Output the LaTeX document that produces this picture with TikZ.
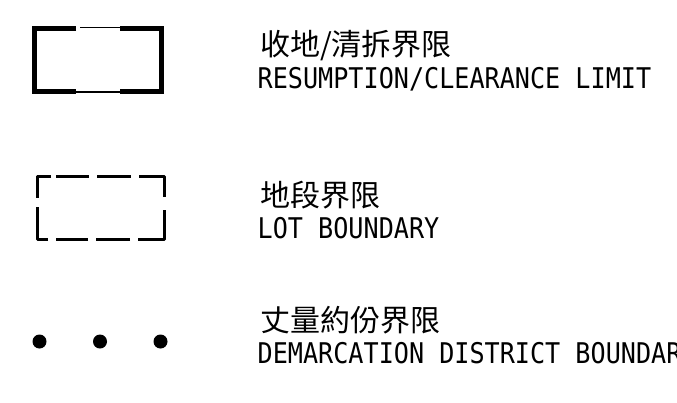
\documentclass[tikz,border=0pt]{standalone}
\usepackage{fontspec}
\newfontfamily\cadfont[FakeStretch=0.882]{DejaVu Sans Mono}
\newfontfamily\cjkfont{Noto Sans CJK TC}
\usepackage{tikz}
\usetikzlibrary{positioning}
\tikzstyle{limitline} = [line width=5pt, line join=miter]
\tikzstyle{gapline} = [line width=1.2pt]
\tikzstyle{lotline} = [line width=3pt, line join=round]
\tikzstyle{dot} = [circle, fill=black, inner sep=0pt, minimum size=14pt]
\tikzstyle{zhlabel} = [anchor=west, inner sep=0pt, font=\cjkfont\fontsize{30}{32}\selectfont]
\tikzstyle{enlabel} = [anchor=base west, inner sep=0pt, font=\cadfont\fontsize{28.5}{32}\selectfont]

\begin{document}
\begin{tikzpicture}[x=1pt, y=-1pt]
\useasboundingbox (0,0) rectangle (677,402);

% Resumption / clearance limit
\draw[limitline] (76,28) -- (34,28) -- (34,91.5) -- (76,91.5);
\draw[limitline] (120,28) -- (161.5,28) -- (161.5,91.5) -- (120,91.5);
\draw[gapline] (80,27.5) -- (120,27.5);
\draw[gapline] (76,92) -- (120,92);
\node (resumptionzh) [zhlabel] at (260,45.5) {收地/清拆界限};
\node (resumptionen) [enlabel] at (257.5,88) {RESUMPTION/CLEARANCE LIMIT};

% Lot boundary
\draw[lotline] (51,176.5) -- (37,176.5) -- (37,198);
\draw[lotline] (56,176.5) -- (89,176.5);
\draw[lotline] (97,176.5) -- (131,176.5);
\draw[lotline] (139,176.5) -- (164.3,176.5) -- (164.3,197);
\draw[lotline] (164.3,210) -- (164.3,239.5) -- (138,239.5);
\draw[lotline] (130,239.5) -- (96,239.5);
\draw[lotline] (88,239.5) -- (56,239.5);
\draw[lotline] (48,239.5) -- (37,239.5) -- (37,207);
\node (lotzh) [zhlabel] at (260,195) {地段界限};
\node (loten) [enlabel] at (257.5,238) {LOT BOUNDARY};

% Demarcation district boundary
\foreach \i/\x in {1/39.5, 2/100, 3/160.5}
  \node (dot\i) [dot] at (\x,341.5) {};
\node (ddzh) [zhlabel] at (260,320) {丈量約份界限};
\node (dden) [enlabel] at (257.5,363) {DEMARCATION DISTRICT BOUNDARY};
\end{tikzpicture}
\end{document}
